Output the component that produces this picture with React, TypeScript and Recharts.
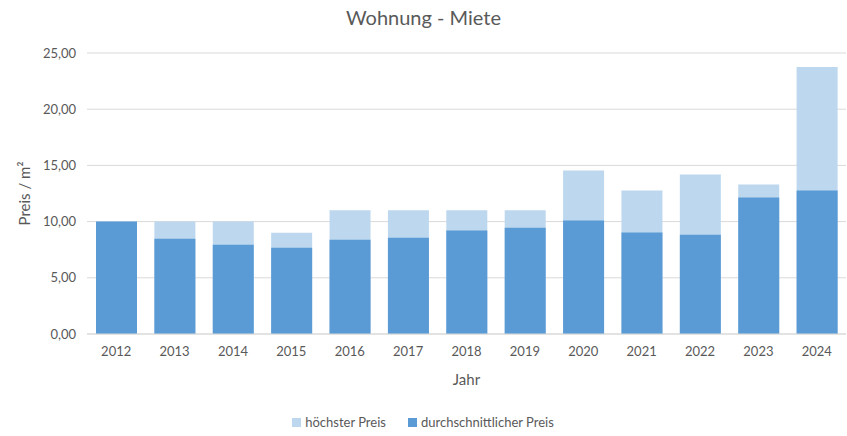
import React from "react";
import { BarChart, Bar, XAxis, YAxis, CartesianGrid, Legend } from "recharts";

const years = ["2012", "2013", "2014", "2015", "2016", "2017", "2018", "2019", "2020", "2021", "2022", "2023", "2024"];
const hoechsterPreis = [10.0, 10.0, 10.0, 9.0, 11.0, 11.0, 11.0, 11.0, 14.55, 12.77, 14.2, 13.3, 23.75];
const durchschnittPreis = [10.0, 8.48, 7.95, 7.68, 8.39, 8.57, 9.2, 9.46, 10.09, 9.02, 8.84, 12.14, 12.77];
const yTicks = [0, 5, 10, 15, 20, 25];
const seriesNames = ["höchster Preis", "durchschnittlicher Preis"];
const seriesColors = ["#BDD7EE", "#5B9BD5"];

const data = years.map((year, i) => ({
  year,
  max: hoechsterPreis[i],
  avg: durchschnittPreis[i],
}));

const textColor = "#595959";
const font = "Lato, 'Open Sans', sans-serif";

const renderLegend = () => (
  <div style={{ display: "flex", justifyContent: "center", gap: 22, fontSize: 13, color: textColor }}>
    {seriesNames.map((name, i) => (
      <span key={name} style={{ display: "flex", alignItems: "center" }}>
        <span style={{ width: 9, height: 9, background: seriesColors[i], marginRight: 4, display: "inline-block" }} />
        {name}
      </span>
    ))}
  </div>
);

export default function App() {
  return (
    <div style={{ position: "relative", width: 847, height: 436, fontFamily: font, background: "#fff" }}>
      <style>{"body{margin:0}"}</style>
      <div
        style={{
          position: "absolute",
          top: 5,
          left: 0,
          width: 847,
          textAlign: "center",
          fontSize: 20,
          color: textColor,
        }}
      >
        Wohnung - Miete
      </div>
      <BarChart
        width={847}
        height={436}
        data={data}
        margin={{ top: 53, right: 1, left: 0, bottom: 24 }}
        barSize={41}
        barGap={-41}
      >
        <CartesianGrid vertical={false} stroke="#d9d9d9" />
        <XAxis
          dataKey="year"
          axisLine={{ stroke: "#d9d9d9" }}
          tickLine={false}
          tick={{ fill: textColor, fontSize: 13, dy: 5 }}
          height={62}
          label={{ value: "Jahr", position: "insideBottom", offset: 11, fill: textColor, fontSize: 15 }}
        />
        <YAxis
          domain={[0, 25]}
          ticks={yTicks}
          width={87}
          axisLine={false}
          tickLine={false}
          tick={{ fill: textColor, fontSize: 13, dx: -3 }}
          tickFormatter={(v: number) => v.toFixed(2).replace(".", ",")}
          label={{ value: "Preis / m²", angle: -90, position: "insideLeft", offset: 25, fill: textColor, fontSize: 15, style: { textAnchor: "middle" } }}
        />
        <Legend verticalAlign="bottom" content={renderLegend} wrapperStyle={{ bottom: 6 }} />
        <Bar dataKey="max" name={seriesNames[0]} fill={seriesColors[0]} isAnimationActive={false} />
        <Bar dataKey="avg" name={seriesNames[1]} fill={seriesColors[1]} isAnimationActive={false} />
      </BarChart>
    </div>
  );
}
